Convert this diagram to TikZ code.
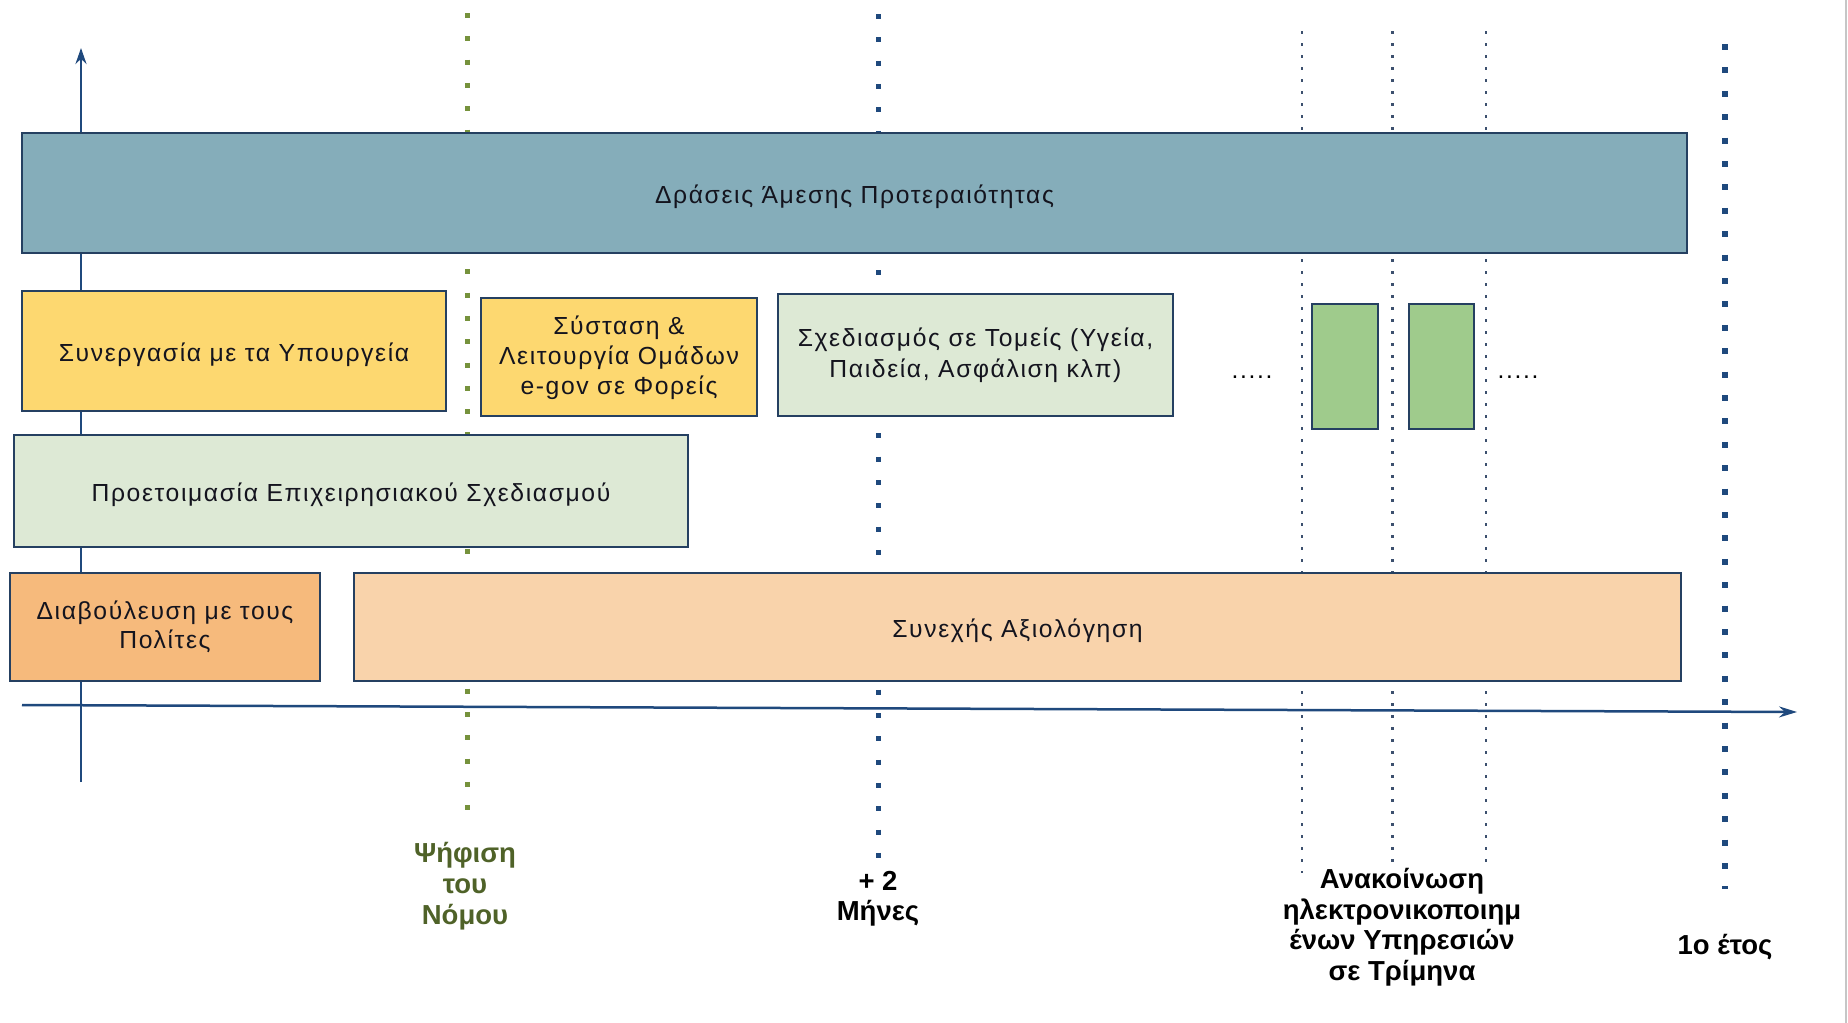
\documentclass[tikz,border=0pt]{standalone}
\usepackage{fontspec}
\setmainfont{Liberation Sans}
\newfontfamily\boxfont[LetterSpace=6.5]{Liberation Sans}
\newcommand\lowtxt[1]{\raisebox{-3.5pt}[\height][\depth]{#1}}
\usetikzlibrary{arrows.meta}
\definecolor{navy}{RGB}{37,64,97}
\definecolor{axisblue}{RGB}{31,73,125}
\definecolor{topfill}{RGB}{133,173,186}
\definecolor{yellowfill}{RGB}{253,216,112}
\definecolor{lgreenfill}{RGB}{221,233,213}
\definecolor{greenfill}{RGB}{159,203,140}
\definecolor{orangefill}{RGB}{246,186,124}
\definecolor{peachfill}{RGB}{249,211,171}
\definecolor{dotgreen}{RGB}{118,146,60}
\definecolor{thindot}{RGB}{60,80,110}
\definecolor{labelgreen}{RGB}{79,98,40}
\definecolor{textdark}{RGB}{20,20,30}
\begin{document}
\begin{tikzpicture}[x=1pt,y=-1pt,
  box/.style={draw=navy, line width=2.5pt, inner sep=0pt, align=center, text=textdark, font=\boxfont\fontsize{24.7}{30}\selectfont},
  bigdots/.style={line width=5pt, dash pattern=on 5pt off 18.3pt},
  hugedots/.style={line width=6pt, dash pattern=on 6pt off 17.4pt},
  smalldots/.style={line width=2.6pt, dash pattern=on 2.6pt off 9.4pt, color=thindot},
  axis/.style={draw=axisblue, line width=2.5pt},
  lbl/.style={align=center, font=\bfseries\fontsize{27.5}{30.5}\selectfont},
  dots/.style={font=\boxfont\fontsize{24.7}{30}\selectfont}
]
\useasboundingbox (0,0) rectangle (1848,1023);
\fill[white] (0,0) rectangle (1848,1023);
\draw[gray!45, line width=1.5pt] (1846,0) -- (1846,1023);

% dotted time markers
\coordinate (g0) at (467,13);   \coordinate (g1) at (467,812);
\coordinate (b0) at (878,14);   \coordinate (b1) at (878,860);
\coordinate (y0) at (1725,44);  \coordinate (y1) at (1725,889);
\coordinate (t10) at (1302,31); \coordinate (t11) at (1302,873);
\coordinate (t20) at (1392.5,31); \coordinate (t21) at (1392.5,865);
\coordinate (t30) at (1486,31); \coordinate (t31) at (1486,865);
\draw[bigdots, dotgreen] (g0) -- (g1);
\draw[bigdots, axisblue] (b0) -- (b1);
\draw[hugedots, axisblue] (y0) -- (y1);
\draw[smalldots] (t10) -- (t11);
\draw[smalldots] (t20) -- (t21);
\draw[smalldots] (t30) -- (t31);

% axes
\coordinate (v0) at (81,782); \coordinate (v1) at (81,48);
\coordinate (h0) at (22,705); \coordinate (h1) at (1797,712);
\draw[axis, -{Stealth[length=16pt,width=11pt]}] (v0) -- (v1);
\draw[axis, -{Stealth[length=18pt,width=11pt,inset=6pt]}] (h0) -- (h1);

% boxes
\node[box, fill=topfill, minimum width=1665pt, minimum height=120pt] (top) at (854.5,193) {\lowtxt{Δράσεις Άμεσης Προτεραιότητας}};
\node[box, fill=yellowfill, minimum width=424pt, minimum height=120pt] (syn) at (234,351) {\lowtxt{Συνεργασία με τα Υπουργεία}};
\node[box, fill=yellowfill, minimum width=276pt, minimum height=118pt] (sys) at (619,357) {\raisebox{-1.5pt}[\height][\depth]{\begin{tabular}{@{}c@{}}Σύσταση \&\\Λειτουργία Ομάδων\\e-gov σε Φορείς\end{tabular}}};
\node[box, fill=lgreenfill, minimum width=395pt, minimum height=122pt, font=\boxfont\fontsize{24.7}{31}\selectfont] (sxe) at (975.5,355) {Σχεδιασμός σε Τομείς (Υγεία,\\Παιδεία, Ασφάλιση κλπ)};
\node[box, fill=greenfill, minimum width=66pt, minimum height=125pt] (gr1) at (1345,366.5) {};
\node[box, fill=greenfill, minimum width=65pt, minimum height=125pt] (gr2) at (1441.5,366.5) {};
\node[box, fill=lgreenfill, minimum width=674pt, minimum height=112pt] (pro) at (351,491) {\lowtxt{Προετοιμασία Επιχειρησιακού Σχεδιασμού}};
\node[box, fill=orangefill, minimum width=310pt, minimum height=108pt, font=\boxfont\fontsize{24.7}{29}\selectfont] (dia) at (165,627) {Διαβούλευση με τους\\Πολίτες};
\node[box, fill=peachfill, minimum width=1327pt, minimum height=108pt] (sun) at (1017.5,627) {\lowtxt{Συνεχής Αξιολόγηση}};

\node[dots] (d1) at (1252,377) {.....};
\node[dots] (d2) at (1518,377) {.....};

% labels
\node[lbl, text=labelgreen, font=\bfseries\fontsize{27.5}{31.3}\selectfont] (l1) at (465,886) {Ψήφιση\\του\\Νόμου};
\node[lbl] (l2) at (878,898.5) {+ 2\\Μήνες};
\node[lbl] (l3) at (1402,927) {Ανακοίνωση\\ηλεκτρονικοποιημ\\ένων Υπηρεσιών\\σε Τρίμηνα};
\node[lbl] (l4) at (1725,947) {1ο έτος};
\end{tikzpicture}
\end{document}
